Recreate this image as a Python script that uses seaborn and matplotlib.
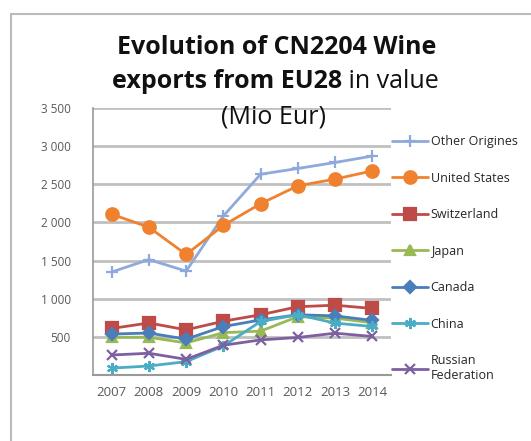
import pandas as pd
import matplotlib
matplotlib.use('Agg')
import matplotlib.pyplot as plt
import seaborn as sns
from matplotlib.patches import Rectangle

years = [2007, 2008, 2009, 2010, 2011, 2012, 2013, 2014]
series_names = ['Other Origines', 'United States', 'Switzerland', 'Japan',
                'Canada', 'China', 'Russian Federation']
other = [1350, 1513, 1362, 2085, 2632, 2707, 2786, 2870]
usa = [2108, 1937, 1580, 1961, 2246, 2480, 2568, 2676]
swiss = [610, 682, 592, 705, 790, 895, 915, 872]
japan = [495, 495, 420, 555, 575, 765, 745, 685]
canada = [537, 550, 470, 635, 722, 790, 775, 715]
china = [90, 118, 175, 380, 702, 790, 680, 636]
russia = [262, 285, 205, 390, 460, 492, 548, 505]
yticks = [0, 500, 1000, 1500, 2000, 2500, 3000, 3500]
ytick_labels = ['', '500', '1 000', '1 500', '2 000', '2 500', '3 000', '3 500']

values = [other, usa, swiss, japan, canada, china, russia]
rows = []
for name, vals in zip(series_names, values):
    for yr, v in zip(years, vals):
        rows.append({'Year': yr, 'Value': v, 'Series': name})
df = pd.DataFrame(rows)

colors = {'Other Origines': '#8EA9DB', 'United States': '#F0822F',
          'Switzerland': '#BE4B48', 'Japan': '#98B954', 'Canada': '#4A7EBB',
          'China': '#4BACC6', 'Russian Federation': '#7D60A0'}
markers = {'Other Origines': '+', 'United States': 'o', 'Switzerland': 's',
           'Japan': '^', 'Canada': 'D', 'China': (6, 2, 0),
           'Russian Federation': 'x'}
msize = {'Other Origines': 8, 'United States': 9, 'Switzerland': 8,
         'Japan': 7, 'Canada': 6.5, 'China': 8, 'Russian Federation': 7}

sns.set_style('white')
plt.rcParams['font.family'] = ['Open Sans', 'DejaVu Sans']

fig = plt.figure(figsize=(5.31, 4.41), dpi=100)
ax = fig.add_axes([93 / 531, 1 - 375 / 441, (391 - 93) / 531, (375 - 108) / 441])

for name in series_names:
    sub = df[df['Series'] == name]
    sns.lineplot(data=sub, x='Year', y='Value', color=colors[name],
                 marker=markers[name], markersize=msize[name],
                 markeredgewidth=1.6, markeredgecolor=colors[name],
                 linewidth=2, ax=ax, label=name)
if ax.get_legend() is not None:
    ax.get_legend().remove()

ax.set_xlim(2006.5, 2014.5)
ax.set_ylim(0, 3500)
ax.set_xticks([y + 0.5 for y in range(2006, 2015)])
ax.set_xticklabels([])
ax.set_xticks(years, minor=True)
ax.set_xticklabels([str(y) for y in years], minor=True)
ax.tick_params(axis='x', which='major', length=5, width=1.2, color='#999999', direction='out')
ax.tick_params(axis='x', which='minor', length=0, pad=8, labelsize=9.5, labelcolor='#595959')
ax.set_yticks(yticks)
ax.set_yticklabels(ytick_labels)
ax.tick_params(axis='y', length=6, width=1.2, color='#999999', direction='out',
               labelsize=8.5, labelcolor='#595959', pad=10)
ax.grid(axis='y', color='#C0C0C0', linewidth=2)
ax.set_axisbelow(True)
for side in ['top', 'right']:
    ax.spines[side].set_visible(False)
ax.spines['left'].set_color('#999999')
ax.spines['bottom'].set_color('#999999')
ax.spines['left'].set_linewidth(1.2)
ax.spines['bottom'].set_linewidth(1.5)
ax.set_xlabel('')
ax.set_ylabel('')

handles = ax.get_lines()[:len(series_names)]
labels = ['Other Origines', 'United States', 'Switzerland', 'Japan', 'Canada',
          'China', 'Russian\nFederation']
fig.legend(handles, labels, loc='upper left', bbox_to_anchor=(387 / 531, 1 - 130 / 441),
           frameon=False, fontsize=9, handlelength=2.9, handletextpad=0.2,
           labelspacing=1.88, borderaxespad=0)

# chart border
fig.patches.append(Rectangle((11 / 531, -0.1), 1.2, 1 - 14 / 441 + 0.1,
                             transform=fig.transFigure, fill=False,
                             edgecolor='#BBBBBB', linewidth=1.5))

# title (mixed weights)
fig.text(277 / 531, 1 - 47 / 441, 'Evolution of CN2204 Wine', ha='center', va='center',
         fontsize=18, fontweight='bold', color='#111111')
fig.canvas.draw()
r = fig.canvas.get_renderer()
t_bold = fig.text(0, 1 - 81 / 441, 'exports from EU28', ha='left', va='center',
                  fontsize=18, fontweight='bold', color='#111111')
t_reg = fig.text(0, 1 - 81 / 441, ' in value', ha='left', va='center',
                 fontsize=18, color='#111111')
wb = t_bold.get_window_extent(r).width
wr = t_reg.get_window_extent(r).width
x0 = 275 - (wb + wr) / 2
t_bold.set_x(x0 / 531)
t_reg.set_x((x0 + wb) / 531)
fig.text(274 / 531, 1 - 117 / 441, '(Mio Eur)', ha='center', va='center',
         fontsize=18, color='#111111')

fig.savefig('out.png', dpi=100)
